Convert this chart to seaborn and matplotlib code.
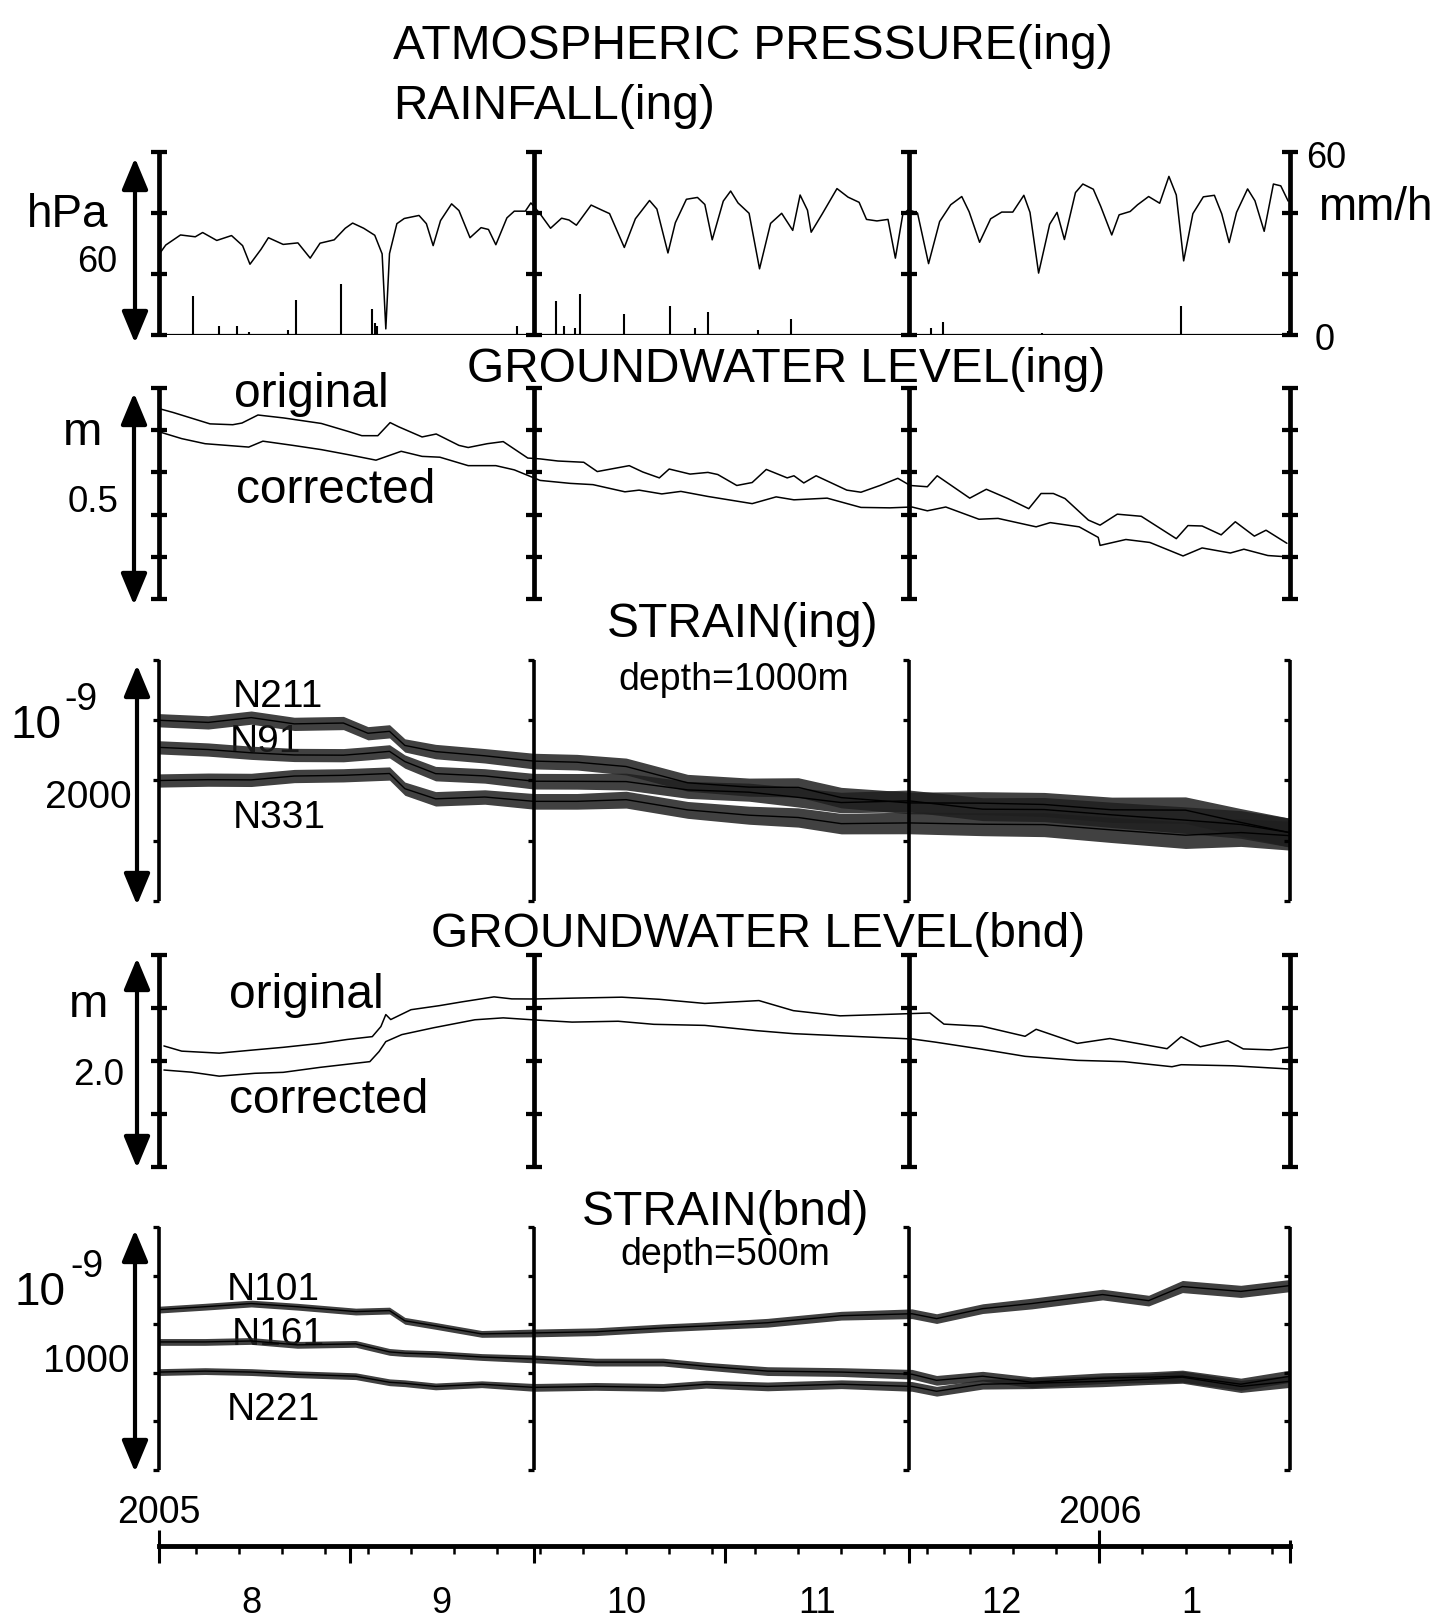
import matplotlib
matplotlib.use('Agg')
import matplotlib.pyplot as plt
import matplotlib.dates as mdates
import numpy as np
import pandas as pd
import seaborn as sns

sns.set_theme(style='white', rc={'axes.edgecolor': 'black', 'text.color': 'black',
                                 'xtick.color': 'black'})
plt.rcParams['font.family'] = ['Liberation Sans', 'DejaVu Sans']

W, H = 1442, 1620
START = pd.Timestamp('2005-08-01')
END = pd.Timestamp('2006-02-01')

# ---- data (days since 2005-08-01) ----
# atmospheric pressure (hPa) and rainfall (mm/h), ing
press_day = [0.1, 1.1, 3.5, 5.9, 7.1, 9.4, 11.8, 13.6, 14.8, 16.6, 17.8, 20.2, 22.6, 24.6, 26.2,
             28.5, 30.3, 31.5, 33.3, 35.1, 36.3, 36.9, 37.5, 38.7, 39.9, 42.3, 43.5, 44.6, 45.8,
             47.6, 48.8, 50.6, 52.4, 53.6, 54.8, 56.6, 57.8, 59.6, 60.5,
             61.9, 63.7, 65.5, 66.7, 67.9, 70.3, 72.1, 73.3, 75.7, 77.5, 79.8, 81.0, 82.8, 84.0,
             85.8, 87.6, 88.8, 90.0, 91.8, 93.0, 94.2, 96.0, 97.7, 99.5, 101.3, 103.1, 104.3,
             105.5, 106.1, 107.9, 110.3, 112.1, 113.9, 115.1, 116.8, 118.6, 119.8, 121.0, 121.9,
             123.4, 125.2, 127.0, 128.8, 130.6, 131.8, 133.5, 135.3, 137.1, 138.9, 140.7, 141.7,
             143.1, 144.9, 146.1, 147.3, 149.1, 150.3, 152.0, 153.2, 155.0, 156.2, 158.0, 159.2,
             161.0, 162.8, 164.3, 165.5, 166.7, 168.2, 169.9, 171.7, 172.9, 174.1, 175.3, 177.1,
             178.3, 179.8, 181.3, 182.5, 183.7]
press_hpa = [1001.7, 1004.5, 1007.8, 1007.2, 1008.6, 1006.0, 1007.6, 1004.3, 998.2, 1003.1,
             1006.9, 1004.7, 1005.2, 1000.2, 1005.1, 1006.2, 1010.0, 1011.7, 1010.0, 1007.7,
             1001.6, 977.0, 1001.7, 1011.5, 1013.2, 1014.2, 1011.5, 1004.3, 1012.5, 1018.0,
             1015.8, 1006.9, 1010.2, 1009.6, 1004.6, 1013.4, 1015.6, 1015.6, 1018.3,
             1015.0, 1010.0, 1013.3, 1012.7, 1011.0, 1017.6, 1015.9, 1014.8, 1003.7, 1013.1,
             1019.1, 1016.3, 1001.9, 1011.8, 1019.5, 1020.1, 1017.8, 1006.2, 1018.9, 1022.2,
             1018.3, 1014.9, 996.7, 1011.6, 1014.9, 1009.3, 1020.9, 1015.9, 1008.7, 1014.7,
             1023.0, 1020.2, 1018.5, 1012.9, 1012.4, 1012.9, 1000.2, 1014.5, 1016.1,
             1015.0, 998.4, 1012.2, 1017.7, 1020.4, 1015.4, 1005.4, 1013.1, 1015.3, 1015.3,
             1020.8, 1015.2, 995.3, 1011.3, 1015.2, 1006.3, 1021.7, 1024.5, 1022.8, 1017.2,
             1007.8, 1014.4, 1015.5, 1017.7, 1020.4, 1018.2, 1027.0, 1020.9, 999.3, 1014.8,
             1020.3, 1020.8, 1014.7, 1005.3, 1015.2, 1022.9, 1019.0, 1009.0, 1024.5, 1023.9,
             1018.9]
rain_day = [5.6, 9.8, 12.7, 14.6, 21.0, 22.3, 29.6, 34.7, 35.1, 35.5, 58.2, 64.6, 65.9, 67.6, 68.5,
            75.7, 83.1, 87.2, 89.3, 97.5, 102.8, 125.6, 127.6, 143.7, 166.3, 183.7]
rain_mmh = [12.7, 2.8, 3.0, 1.0, 1.7, 11.6, 16.6, 8.5, 3.9, 2.8, 3.0, 11.0, 3.0, 2.2, 13.6,
            7.0, 9.4, 2.2, 7.5, 1.5, 5.2, 2.2, 4.2, 0.6, 9.5, 1.3]

# groundwater level (m), ing
gwi_orig_day = [0.3, 2.3, 8.3, 12.0, 13.5, 16.1, 20.3, 26.4, 30.8, 33.0, 35.6, 37.6, 39.0, 42.8,
                45.1, 48.8, 50.3, 53.4, 56.0, 60.0, 62.0, 64.9, 69.1, 71.3, 76.5, 78.7, 81.4, 83.0,
                86.4, 89.3, 90.9, 94.0, 96.5, 98.8, 102.2, 103.3, 104.9, 106.9, 111.9, 114.2, 117.3,
                120.2, 122.2, 125.0, 126.6, 131.9, 134.6, 138.1, 141.5, 143.5, 145.5, 147.4, 151.2,
                153.1, 155.9, 159.8, 165.5, 167.4, 169.7, 172.8, 175.1, 178.2, 180.1, 183.5]
gwi_orig = [0.450, 0.442, 0.415, 0.413, 0.417, 0.436, 0.429, 0.416, 0.397, 0.387, 0.387, 0.418,
            0.408, 0.384, 0.391, 0.364, 0.359, 0.368, 0.373, 0.334, 0.332, 0.327, 0.324, 0.302,
            0.316, 0.301, 0.287, 0.308, 0.296, 0.300, 0.295, 0.269, 0.276, 0.307, 0.287, 0.292,
            0.275, 0.292, 0.258, 0.253, 0.269, 0.286, 0.269, 0.266, 0.292, 0.239, 0.260, 0.238,
            0.214, 0.250, 0.250, 0.238, 0.187, 0.175, 0.201, 0.196, 0.143, 0.174, 0.173, 0.152,
            0.183, 0.149, 0.163, 0.132]
gwi_corr_day = [0.3, 3.7, 7.5, 14.6, 16.9, 21.8, 26.4, 30.8, 35.3, 39.4, 42.8, 45.7, 50.3, 54.8,
                57.8, 62.0, 66.9, 70.6, 75.8, 78.1, 81.8, 84.9, 89.3, 96.5, 100.4, 103.3, 108.7,
                114.2, 118.9, 122.5, 125.0, 128.0, 133.4, 136.5, 142.7, 145.0, 149.7, 152.8, 153.1,
                157.3, 161.2, 166.6, 169.7, 174.3, 176.5, 180.4, 183.5]
gwi_corr = [0.395, 0.380, 0.368, 0.360, 0.374, 0.364, 0.354, 0.342, 0.329, 0.350, 0.338, 0.336,
            0.316, 0.316, 0.306, 0.281, 0.274, 0.271, 0.254, 0.258, 0.249, 0.255, 0.243, 0.226,
            0.242, 0.235, 0.239, 0.217, 0.216, 0.218, 0.209, 0.218, 0.189, 0.191, 0.171, 0.181,
            0.171, 0.146, 0.127, 0.141, 0.134, 0.102, 0.121, 0.109, 0.118, 0.103, 0.100]

# strain (1e-9), ing, depth 1000 m; amp = half width of the tidal band
strain_ing_day = [0, 8, 15, 22, 30, 34, 37.5, 40, 45, 53, 61, 68, 76, 86, 96, 104, 111, 122, 134,
                  144, 155, 167, 176, 184]
n211 = [1500, 1482, 1522, 1470, 1477, 1392, 1408, 1291, 1240, 1205, 1161, 1152, 1116, 981, 945,
        943, 858, 814, 812, 801, 757, 754, 652, 567]
n91 = [1275, 1257, 1230, 1212, 1210, 1226, 1242, 1157, 1057, 1038, 994, 993, 991, 922, 903, 860,
       817, 831, 762, 759, 715, 671, 635, 567]
n331 = [1000, 1007, 1005, 1037, 1043, 1051, 1058, 932, 848, 863, 827, 827, 841, 756, 712, 693,
        642, 648, 637, 634, 590, 546, 568, 542]
ing_amp = [55, 55, 55, 55, 55, 55, 55, 55, 60, 60, 65, 65, 70, 70, 75, 80, 85, 90, 95, 100, 105,
           110, 115, 120]

# groundwater level (m), bnd
gwb_orig_day = [0.8, 3.7, 9.8, 15.0, 20.2, 26.2, 30.6, 34.7, 36.1, 36.9, 37.7, 41.0, 45.6, 49.3,
                54.5, 57.4, 61.2, 67.2, 75.3, 81.4, 88.8, 97.6, 103.2, 110.8, 120.1, 125.4, 127.7,
                133.9, 140.9, 142.7, 149.4, 154.7, 164.0, 166.3, 169.4, 173.9, 176.4, 180.9, 184.0]
gwb_orig = [1.142, 1.093, 1.074, 1.102, 1.129, 1.166, 1.203, 1.230, 1.325, 1.438, 1.391, 1.484,
            1.522, 1.558, 1.605, 1.586, 1.585, 1.593, 1.602, 1.582, 1.543, 1.570, 1.475, 1.426,
            1.443, 1.453, 1.348, 1.328, 1.233, 1.299, 1.166, 1.212, 1.116, 1.229, 1.134, 1.191,
            1.114, 1.105, 1.132]
gwb_corr_day = [0.8, 5.2, 9.8, 15.6, 20.2, 26.2, 34.3, 35.8, 36.9, 39.5, 44.7, 51.4, 56.0, 61.2,
                67.2, 74.7, 80.5, 88.8, 97.1, 103.2, 110.8, 122.5, 126.3, 133.9, 140.9, 149.4,
                157.0, 164.8, 166.3, 174.7, 183.7]
gwb_corr = [0.915, 0.895, 0.857, 0.884, 0.893, 0.940, 0.994, 1.089, 1.183, 1.249, 1.314, 1.389,
            1.407, 1.387, 1.367, 1.375, 1.346, 1.336, 1.287, 1.258, 1.238, 1.208, 1.178, 1.111,
            1.044, 1.006, 0.994, 0.946, 0.965, 0.955, 0.925]

# strain (1e-9), bnd, depth 500 m
strain_bnd_day = [0, 7.5, 15, 22.5, 32, 37.5, 40, 45, 52.5, 61, 71, 82, 89, 99, 111, 122.5, 126.5,
                  134, 142, 153.5, 161, 166.5, 176, 184]
n101 = [660, 672, 685, 672, 652, 656, 614, 593, 560, 564, 569, 585, 593, 606, 635, 643, 623, 664,
        685, 722, 697, 755, 735, 759]
n161 = [527, 527, 531, 515, 519, 486, 481, 477, 465, 457, 444, 444, 427, 407, 403, 394, 369, 386,
        361, 378, 382, 386, 353, 386]
n221 = [403, 407, 403, 394, 386, 361, 357, 344, 353, 340, 344, 340, 353, 344, 353, 344, 324, 353,
        357, 365, 374, 382, 344, 365]
bnd_amp = [14, 14, 14, 14, 14, 14, 14, 14, 14, 16, 16, 16, 16, 18, 18, 20, 20, 20, 22, 22, 22, 25,
           25, 25]

month_labels = ['8', '9', '10', '11', '12', '1']
month_mid = pd.to_datetime(['2005-08-16', '2005-09-16', '2005-10-16', '2005-11-16',
                            '2005-12-16', '2006-01-16'])
bar_dates = pd.to_datetime(['2005-08-01', '2005-10-01', '2005-12-01', '2006-02-01'])


def to_dates(days):
    return START + pd.to_timedelta(np.asarray(days, dtype=float), unit='D')


fig = plt.figure(figsize=(W / 100, H / 100), dpi=100)

# overlay in pixel coordinates for labels and scale arrows
ov = fig.add_axes([0, 0, 1, 1])
ov.set_xlim(0, W)
ov.set_ylim(H, 0)
ov.axis('off')

X0, X1 = 159, 1290


def panel(top, bottom, ylim):
    ax = fig.add_axes([X0 / W, 1 - bottom / H, (X1 - X0) / W, (bottom - top) / H])
    ax.set_xlim(START, END)
    ax.set_ylim(*ylim)
    ax.axis('off')
    ax.patch.set_alpha(0)
    return ax


def draw_bars(ax, ticks, bracket=False):
    lo, hi = ax.get_ylim()
    mk = 0 if bracket else '_'
    ms = 4.5 if bracket else 11
    lw = 2.6 if bracket else 3.4
    for x in bar_dates:
        ax.plot([x, x], [lo, hi], color='black', lw=lw, solid_capstyle='butt', clip_on=False)
        ax.plot([x] * (len(ticks) + 2), [lo] + ticks + [hi], ls='none', marker=mk, ms=ms,
                mew=lw * 0.9, color='black', clip_on=False)


def trace(ax, days, vals, lw=1.1):
    sns.lineplot(x=to_dates(days), y=vals, ax=ax, color='black', linewidth=lw, estimator=None)


def band(ax, days, vals, amp):
    v, a = np.asarray(vals, float), np.asarray(amp, float)
    ax.fill_between(to_dates(days), v - a, v + a, color='0.12', alpha=0.85, lw=0)
    trace(ax, days, vals, lw=1.0)


# panel 1: pressure + rainfall
ax1 = panel(152, 335, (975, 1035))
trace(ax1, press_day, press_hpa)
draw_bars(ax1, [995, 1015])
ax1r = panel(152, 335, (0, 60))
ax1r.vlines(to_dates(rain_day), 0, rain_mmh, color='black', lw=1.5)
ax1r.plot([START, END], [0, 0], color='black', lw=1.6)

# panel 2: groundwater ing
ax2 = panel(388, 599, (0, 0.5))
trace(ax2, gwi_orig_day, gwi_orig)
trace(ax2, gwi_corr_day, gwi_corr)
draw_bars(ax2, [0.1, 0.2, 0.3, 0.4])

# panel 3: strain ing
ax3 = panel(660, 901, (0, 2000))
for s in (n211, n91, n331):
    band(ax3, strain_ing_day, s, ing_amp)
draw_bars(ax3, [500, 1000, 1500], bracket=True)

# panel 4: groundwater bnd
ax4 = panel(955, 1167, (0, 2.0))
trace(ax4, gwb_orig_day, gwb_orig)
trace(ax4, gwb_corr_day, gwb_corr)
draw_bars(ax4, [0.5, 1.0, 1.5])

# panel 5: strain bnd
ax5 = panel(1227, 1470, (0, 1000))
for s in (n101, n161, n221):
    band(ax5, strain_bnd_day, s, bnd_amp)
draw_bars(ax5, [200, 400, 600, 800], bracket=True)

# time axis
ax_t = fig.add_axes([X0 / W, 1 - 1546 / H, (X1 - X0) / W, 30 / H])
ax_t.set_xlim(START, END)
ax_t.patch.set_alpha(0)
for s in ['top', 'left', 'right']:
    ax_t.spines[s].set_visible(False)
ax_t.spines['bottom'].set_linewidth(3.5)
ax_t.set_yticks([])
ax_t.xaxis.set_major_locator(mdates.MonthLocator())
ax_t.xaxis.set_minor_locator(mdates.WeekdayLocator(byweekday=mdates.SU))
ax_t.tick_params(axis='x', which='major', bottom=True, direction='out', length=12, width=2.2,
                 labelbottom=False)
ax_t.tick_params(axis='x', which='minor', bottom=True, direction='out', length=6, width=1.8)
ax_t.vlines(pd.to_datetime(['2005-08-01', '2006-01-01', '2006-02-01']), 0, [0.55, 0.55, 0.2],
            transform=ax_t.get_xaxis_transform(), color='black', lw=2.2, clip_on=False)
for d, lab in zip(month_mid, month_labels):
    ax_t.text(d, -2.23, lab, transform=ax_t.get_xaxis_transform(), ha='center', va='baseline',
              fontsize=26)
ax_t.text(START, 0.77, '2005', transform=ax_t.get_xaxis_transform(), ha='center',
          va='baseline', fontsize=27)
ax_t.text(pd.Timestamp('2006-01-01'), 0.77, '2006', transform=ax_t.get_xaxis_transform(),
          ha='center', va='baseline', fontsize=27)

# labels
labels = [
    (393, 59, 'ATMOSPHERIC PRESSURE(ing)', 34.5), (393, 119, 'RAINFALL(ing)', 34.5),
    (27, 227, 'hPa', 33), (77, 272, '60', 26),
    (1306, 168, '60', 26), (1318, 220, 'mm/h', 33), (1315, 350, '0', 26),
    (467, 382, 'GROUNDWATER LEVEL(ing)', 34.5),
    (234, 407, 'original', 34.5), (236, 503, 'corrected', 34.5),
    (63, 445, 'm', 34), (68, 512, '0.5', 26.5),
    (607, 637, 'STRAIN(ing)', 34.5), (618, 690, 'depth=1000m', 27),
    (11, 738, '10', 33), (64, 710, '-9', 27), (45, 808, '2000', 28),
    (233, 707, 'N211', 28), (230, 752, 'N91', 28), (233, 828, 'N331', 28),
    (431, 947, 'GROUNDWATER LEVEL(bnd)', 34.5),
    (229, 1008, 'original', 34.5), (229, 1113, 'corrected', 34.5),
    (69, 1017, 'm', 34), (73, 1085, '2.0', 26.5),
    (582, 1225, 'STRAIN(bnd)', 34.5), (620, 1265, 'depth=500m', 27),
    (15, 1305, '10', 33), (70, 1277, '-9', 27), (43, 1372, '1000', 28),
    (227, 1300, 'N101', 28), (232, 1345, 'N161', 28), (227, 1420, 'N221', 28),
]
for x, y, s, fs in labels:
    ov.text(x, y, s, ha='left', va='baseline', fontsize=fs)

# scale arrows
for x, top, bottom in [(135, 158, 343), (134, 393, 605), (137, 665, 905), (137, 958, 1168),
                       (135, 1230, 1472)]:
    ov.annotate('', xy=(x, top), xytext=(x, bottom),
                arrowprops=dict(arrowstyle='<|-|>,head_length=0.6,head_width=0.25', color='black',
                                lw=3, mutation_scale=32, shrinkA=0, shrinkB=0))

fig.savefig('out.png', dpi=100)
